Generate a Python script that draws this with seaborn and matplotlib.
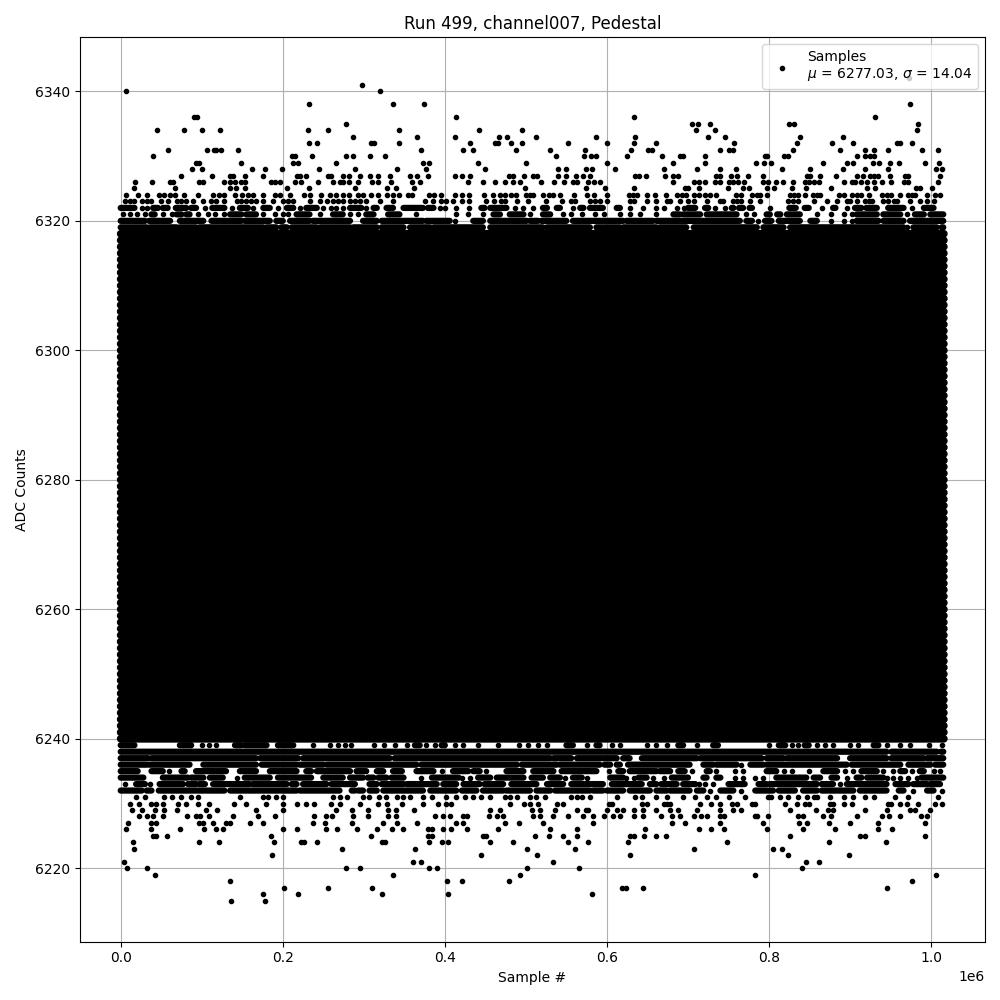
import numpy as np
import pandas as pd
import matplotlib
matplotlib.use('Agg')
import matplotlib.pyplot as plt
import seaborn as sns

# --- style: plain matplotlib look (black frame, ticks, grey grid) ---
sns.set_style('ticks', {'axes.grid': True, 'grid.color': '#b0b0b0',
                        'axes.edgecolor': 'black', 'axes.labelcolor': 'black',
                        'text.color': 'black', 'xtick.color': 'black',
                        'ytick.color': 'black'})
plt.rcParams['font.family'] = ['DejaVu Sans']

# --- data (sample index in millions, ADC code) ---
first_sample, last_sample = 0.0, 1.0157   # x 1e6
mu, sigma = 6277.03, 14.04

# codes that are hit all along the run (solid band)
core_levels = [6240, 6241, 6242, 6243, 6244, 6245, 6246, 6247, 6248, 6249,
               6250, 6251, 6252, 6253, 6254, 6255, 6256, 6257, 6258, 6259,
               6260, 6261, 6262, 6263, 6264, 6265, 6266, 6267, 6268, 6269,
               6270, 6271, 6272, 6273, 6274, 6275, 6276, 6277, 6278, 6279,
               6280, 6281, 6282, 6283, 6284, 6285, 6286, 6287, 6288, 6289,
               6290, 6291, 6292, 6293, 6294, 6295, 6296, 6297, 6298, 6299,
               6300, 6301, 6302, 6303, 6304, 6305, 6306, 6307, 6308, 6309,
               6310, 6311, 6312, 6313, 6314, 6315, 6316, 6317, 6318]

# edge codes: (start, end) = run of touching samples, single number = one sample
fringe_6322 = [(0.0, 0.017), 0.026, 0.032, (0.040, 0.046), (0.052, 0.058), (0.068, 0.081), (0.087, 0.093), 0.104,
               (0.113, 0.128), 0.137, (0.147, 0.157), 0.163, (0.176, 0.184), 0.194, (0.205, 0.213), 0.221,
               (0.229, 0.242), 0.250, 0.260, 0.266, 0.274, (0.283, 0.297), 0.303, (0.312, 0.316), (0.328, 0.336),
               (0.349, 0.373), (0.379, 0.386), 0.394, 0.400, 0.414, 0.430, (0.445, 0.449), (0.456, 0.476), 0.486,
               0.497, 0.509, (0.521, 0.526), (0.538, 0.542), 0.558, (0.567, 0.571), (0.579, 0.595), (0.612, 0.616),
               0.628, 0.645, 0.661, 0.670, 0.686, 0.695, (0.700, 0.709), (0.721, 0.725), 0.733, 0.746,
               (0.754, 0.756), (0.763, 0.768), (0.776, 0.779), 0.801, (0.825, 0.833), (0.844, 0.849), 0.865,
               (0.879, 0.882), 0.896, (0.906, 0.914), (0.920, 0.933), (0.947, 0.966), 0.976, (0.991, 1.003)]
fringe_6321 = [0.003, 0.012, 0.020, 0.030, (0.038, 0.042), 0.052, 0.063, (0.069, 0.075), (0.081, 0.085), 0.095,
               0.108, 0.116, 0.128, (0.135, 0.149), (0.155, 0.167), 0.176, 0.190, 0.200, 0.207, (0.217, 0.233),
               0.246, (0.262, 0.274), 0.283, 0.293, (0.303, 0.312), (0.330, 0.344), 0.365, 0.414, 0.429, 0.447,
               (0.460, 0.468), (0.480, 0.497), 0.505, (0.521, 0.530), 0.546, 0.556, 0.569, 0.585, 0.596, 0.616,
               0.628, 0.641, 0.661, (0.682, 0.690), (0.694, 0.715), (0.723, 0.760), 0.772, 0.781, (0.797, 0.801),
               (0.810, 0.814), (0.822, 0.838), 0.859, 0.877, 0.892, 0.902, (0.908, 0.933), (0.941, 0.962), 0.970,
               (0.980, 0.991), (0.999, 1.015)]
fringe_6320 = [(0.0, 0.030), (0.035, 0.061), (0.073, 0.102), (0.112, 0.149), (0.153, 0.184), (0.192, 0.200),
               (0.209, 0.233), (0.237, 0.283), (0.299, 0.316), (0.322, 0.373), (0.377, 0.406), 0.412,
               (0.435, 0.447), (0.456, 0.501), (0.505, 0.515), (0.519, 0.550), (0.558, 0.620), (0.624, 0.657),
               (0.661, 0.764), (0.772, 0.779), 0.787, (0.795, 0.803), (0.812, 0.838), (0.851, 0.859), 0.877,
               0.892, 0.902, (0.908, 0.935), (0.941, 0.966), (0.974, 1.015)]
fringe_6319 = [(0.0, 0.032), (0.036, 0.069), (0.073, 0.093), (0.097, 0.110), (0.112, 0.176), (0.180, 0.192),
               (0.198, 0.205), (0.211, 0.242), (0.246, 0.283), (0.287, 0.316), (0.322, 0.349), (0.357, 0.382),
               (0.386, 0.447), (0.456, 0.521), (0.526, 0.579), (0.587, 0.616), (0.620, 0.661), (0.665, 0.698),
               (0.707, 0.785), (0.793, 0.818), (0.826, 0.966), 0.970, (0.978, 1.007), (1.013, 1.015)]

fringe_6239 = [(0.0, 0.017), (0.073, 0.087), 0.100, 0.109, 0.117, (0.141, 0.149), (0.153, 0.180), (0.194, 0.213),
               0.237, 0.258, 0.268, 0.277, 0.284, 0.312, 0.325, 0.339, 0.353, (0.363, 0.369), 0.377, 0.388,
               (0.396, 0.400), 0.412, 0.423, 0.441, 0.466, 0.491, 0.503, 0.515, 0.526, (0.550, 0.558), 0.575,
               (0.587, 0.591), 0.606, 0.616, 0.649, 0.661, 0.674, (0.688, 0.694), 0.711, (0.731, 0.737), 0.800,
               (0.812, 0.820), 0.828, 0.836, (0.844, 0.849), 0.859, 0.869, 0.879, 0.900, 0.910, (0.929, 0.935),
               0.945, 0.962, 0.974, 0.997, 1.013]
fringe_6238 = [(0.0, 0.945), (0.951, 1.007), (1.012, 1.015)]
fringe_6237 = [(0.0, 0.034), (0.038, 0.083), (0.085, 0.167), (0.172, 0.219), (0.225, 0.254), (0.256, 0.332),
               (0.338, 0.530), (0.534, 0.556), (0.563, 0.612), (0.620, 0.628), (0.643, 0.711), (0.715, 0.791),
               (0.797, 0.818), (0.822, 0.884), (0.900, 0.945), (0.951, 0.991), (0.995, 1.015)]
fringe_6236 = [(0.0, 0.032), (0.035, 0.085), (0.102, 0.167), (0.174, 0.217), (0.221, 0.250), (0.254, 0.365),
               (0.371, 0.489), (0.495, 0.538), (0.542, 0.591), (0.597, 0.604), (0.612, 0.616), (0.626, 0.702),
               (0.719, 0.731), (0.735, 0.760), 0.766, (0.777, 0.793), (0.797, 0.896), (0.902, 0.962),
               (0.972, 0.999), (1.005, 1.015)]
fringe_6235 = [(0.0, 0.021), (0.038, 0.052), 0.060, (0.075, 0.079), (0.093, 0.130), (0.147, 0.167), (0.184, 0.217),
               (0.229, 0.235), (0.242, 0.283), (0.291, 0.303), (0.316, 0.324), (0.336, 0.347), (0.365, 0.386),
               0.396, (0.410, 0.429), (0.435, 0.443), 0.451, (0.476, 0.497), (0.509, 0.534), (0.544, 0.587), 0.602,
               (0.614, 0.620), (0.628, 0.661), (0.665, 0.678), (0.688, 0.696), 0.705, (0.723, 0.727), 0.735, 0.758,
               0.768, (0.797, 0.809), 0.818, 0.828, 0.849, (0.867, 0.884), 0.894, 0.904, (0.914, 0.933), 0.941,
               0.953, (0.962, 0.968), 0.976, (0.986, 0.991), 1.003, 1.011]
fringe_6234 = [(0.0, 0.028), (0.052, 0.083), (0.087, 0.102), (0.110, 0.126), 0.143, (0.153, 0.184), (0.194, 0.235),
               (0.250, 0.274), (0.283, 0.299), (0.305, 0.312), (0.318, 0.328), (0.334, 0.349), 0.371,
               (0.384, 0.417), 0.421, 0.431, (0.441, 0.456), (0.464, 0.497), (0.507, 0.521), (0.530, 0.542), 0.548,
               (0.558, 0.569), 0.575, (0.604, 0.620), 0.624, 0.633, (0.639, 0.649), 0.657, 0.670, (0.680, 0.700),
               (0.719, 0.723), (0.735, 0.740), 0.758, 0.768, 0.783, 0.793, (0.809, 0.846), (0.855, 0.863),
               (0.877, 0.884), 0.896, (0.908, 0.914), (0.921, 0.941), 0.945, 0.953, 0.962, 0.972, 0.982,
               (0.988, 1.015)]
fringe_6233 = [0.005, (0.019, 0.030), 0.036, (0.048, 0.077), (0.083, 0.093), (0.097, 0.104), (0.114, 0.159),
               (0.163, 0.205), (0.211, 0.217), (0.225, 0.254), (0.260, 0.289), (0.307, 0.316), (0.322, 0.349),
               (0.353, 0.390), (0.398, 0.414), (0.423, 0.443), (0.449, 0.472), (0.482, 0.513), (0.526, 0.546),
               (0.556, 0.595), (0.606, 0.643), (0.653, 0.661), (0.667, 0.686), (0.694, 0.709), 0.713, 0.721, 0.731,
               (0.750, 0.770), (0.787, 0.797), (0.801, 0.859), (0.865, 0.879), 0.888, (0.896, 0.945),
               (0.956, 0.972), (0.978, 0.995), (0.999, 1.011)]
fringe_6232 = [(0.0, 0.026), (0.032, 0.038), (0.047, 0.128), (0.135, 0.217), (0.221, 0.270), (0.285, 0.289),
               (0.293, 0.299), (0.307, 0.316), (0.324, 0.373), (0.382, 0.414), (0.421, 0.439), (0.447, 0.472),
               (0.476, 0.505), (0.513, 0.530), (0.536, 0.579), (0.583, 0.595), (0.600, 0.620), (0.628, 0.653),
               (0.661, 0.674), (0.678, 0.702), (0.711, 0.719), 0.727, (0.740, 0.756), 0.766, (0.783, 0.805),
               (0.812, 0.832), (0.842, 0.859), (0.865, 0.904), (0.912, 0.945), (0.960, 0.966), 0.978,
               (0.995, 1.003), 1.013]

# isolated samples far from the pedestal
dots_6342 = [0.973]
dots_6341 = [0.298]
dots_6340 = [0.006, 0.320]
dots_6338 = [0.232, 0.336, 0.374, 0.974]
dots_6336 = [0.091, 0.094, 0.414, 0.633, 0.931]
dots_6335 = [0.278, 0.705, 0.712, 0.727, 0.825, 0.831, 0.984]
dots_6334 = [0.045, 0.078, 0.100, 0.123, 0.231, 0.256, 0.344, 0.442, 0.495, 0.710, 0.733, 0.983]
dots_6333 = [0.287, 0.366, 0.412, 0.467, 0.477, 0.512, 0.587, 0.635, 0.725, 0.746, 0.838, 0.891]
dots_6332 = [0.232, 0.242, 0.309, 0.313, 0.344, 0.431, 0.462, 0.466, 0.482, 0.495, 0.552, 0.600, 0.633, 0.660,
             0.757, 0.835, 0.878, 0.904, 0.958, 0.962, 0.976]
dots_6331 = [0.058, 0.107, 0.115, 0.117, 0.124, 0.145, 0.370, 0.423, 0.435, 0.488, 0.530, 0.573, 0.630, 0.651,
             0.655, 0.740, 0.750, 0.755, 0.829, 0.888, 0.918, 0.930, 0.947, 0.989, 1.008]
dots_6330 = [0.040, 0.212, 0.215, 0.236, 0.278, 0.287, 0.308, 0.326, 0.537, 0.572, 0.580, 0.587, 0.625, 0.668,
             0.690, 0.694, 0.721, 0.795, 0.797, 0.819, 0.824, 0.909, 0.918, 0.924, 0.930]
dots_6329 = [0.093, 0.097, 0.149, 0.213, 0.219, 0.266, 0.373, 0.381, 0.441, 0.500, 0.600, 0.682, 0.721, 0.784,
             0.794, 0.803, 0.866, 0.896, 0.904, 0.928, 0.936, 0.949, 0.960, 0.993, 1.010]
dots_6328 = [0.088, 0.100, 0.162, 0.178, 0.199, 0.245, 0.289, 0.341, 0.377, 0.449, 0.540, 0.550, 0.574, 0.582,
             0.610, 0.670, 0.711, 0.739, 0.759, 0.816, 0.850, 0.891, 0.919, 0.947, 1.006, 1.014]
dots_6327 = [0.075, 0.113, 0.135, 0.138, 0.153, 0.176, 0.218, 0.221, 0.229, 0.256, 0.260, 0.274, 0.282, 0.295,
             0.308, 0.318, 0.332, 0.357, 0.366, 0.379, 0.412, 0.421, 0.431, 0.479, 0.484, 0.498, 0.509, 0.514,
             0.539, 0.549, 0.562, 0.571, 0.579, 0.635, 0.639, 0.648, 0.672, 0.682, 0.688, 0.735, 0.740, 0.753,
             0.761, 0.774, 0.792, 0.847, 0.850, 0.863, 0.883, 0.909, 0.916, 0.924, 0.930, 0.935, 0.949, 0.968,
             0.972, 1.011]
dots_6326 = [0.018, 0.039, 0.061, 0.065, 0.097, 0.101, 0.128, 0.135, 0.141, 0.148, 0.153, 0.186, 0.190, 0.196,
             0.215, 0.222, 0.244, 0.262, 0.270, 0.274, 0.282, 0.293, 0.310, 0.318, 0.333, 0.360, 0.369, 0.428,
             0.447, 0.462, 0.474, 0.484, 0.493, 0.519, 0.535, 0.547, 0.558, 0.563, 0.577, 0.584, 0.591, 0.681,
             0.707, 0.714, 0.721, 0.733, 0.740, 0.751, 0.756, 0.762, 0.769, 0.793, 0.799, 0.808, 0.817, 0.830,
             0.844, 0.849, 0.856, 0.862, 0.892, 0.902, 0.906, 0.914, 0.921, 0.930, 0.940, 0.950, 0.966, 0.972,
             1.009]
dots_6325 = [0.016, 0.067, 0.135, 0.142, 0.153, 0.205, 0.232, 0.289, 0.328, 0.340, 0.362, 0.499, 0.574, 0.597,
             0.633, 0.696, 0.700, 0.713, 0.749, 0.768, 0.775, 0.798, 0.806, 0.828, 0.845, 0.877, 0.921, 0.931,
             0.981, 0.986, 1.001]
dots_6324 = [0.007, 0.021, 0.032, 0.047, 0.054, 0.061, 0.067, 0.078, 0.095, 0.114, 0.121, 0.128, 0.141, 0.150,
             0.157, 0.163, 0.175, 0.191, 0.197, 0.209, 0.226, 0.233, 0.247, 0.258, 0.266, 0.274, 0.282, 0.293,
             0.299, 0.309, 0.318, 0.328, 0.336, 0.344, 0.355, 0.359, 0.381, 0.386, 0.395, 0.412, 0.421, 0.430,
             0.448, 0.459, 0.468, 0.474, 0.482, 0.488, 0.500, 0.505, 0.509, 0.521, 0.528, 0.534, 0.542, 0.559,
             0.576, 0.584, 0.600, 0.627, 0.632, 0.637, 0.649, 0.659, 0.673, 0.687, 0.692, 0.698, 0.707, 0.714,
             0.721, 0.727, 0.735, 0.759, 0.766, 0.779, 0.785, 0.789, 0.797, 0.826, 0.831, 0.836, 0.844, 0.854,
             0.859, 0.863, 0.886, 0.892, 0.902, 0.908, 0.914, 0.923, 0.939, 0.945, 0.951, 0.962, 0.971, 0.976,
             0.980, 0.995, 1.005, 1.011]
dots_6323 = [0.005, 0.011, 0.017, 0.026, 0.032, 0.038, 0.050, 0.058, 0.069, 0.075, 0.081, 0.089, 0.101, 0.112,
             0.118, 0.128, 0.143, 0.149, 0.155, 0.161, 0.167, 0.176, 0.188, 0.200, 0.207, 0.213, 0.233, 0.246,
             0.254, 0.262, 0.268, 0.274, 0.283, 0.289, 0.295, 0.303, 0.320, 0.336, 0.376, 0.385, 0.395, 0.401,
             0.410, 0.421, 0.430, 0.451, 0.461, 0.469, 0.474, 0.489, 0.502, 0.525, 0.544, 0.556, 0.561, 0.579,
             0.585, 0.591, 0.600, 0.628, 0.633, 0.649, 0.661, 0.674, 0.678, 0.690, 0.700, 0.707, 0.723, 0.739,
             0.743, 0.756, 0.760, 0.765, 0.777, 0.789, 0.824, 0.830, 0.836, 0.855, 0.871, 0.884, 0.896, 0.900,
             0.908, 0.918, 0.923, 0.927, 0.941, 0.947, 0.954, 0.958, 0.974, 0.986, 0.995, 1.003]

dots_6231 = [0.019, 0.030, 0.054, 0.063, 0.075, 0.087, 0.095, 0.147, 0.176, 0.182, 0.192, 0.200, 0.262, 0.270,
             0.279, 0.299, 0.307, 0.319, 0.327, 0.341, 0.348, 0.357, 0.373, 0.384, 0.402, 0.414, 0.425, 0.435,
             0.445, 0.456, 0.474, 0.480, 0.489, 0.505, 0.513, 0.523, 0.556, 0.563, 0.569, 0.579, 0.612, 0.635,
             0.643, 0.661, 0.674, 0.694, 0.709, 0.723, 0.735, 0.750, 0.770, 0.799, 0.803, 0.814, 0.824, 0.836,
             0.847, 0.855, 0.859, 0.875, 0.892, 0.904, 0.919, 0.929, 0.955, 0.972, 1.009]
dots_6230 = [0.011, 0.023, 0.038, 0.044, 0.052, 0.071, 0.081, 0.095, 0.109, 0.140, 0.155, 0.179, 0.200, 0.218,
             0.229, 0.238, 0.260, 0.270, 0.295, 0.318, 0.329, 0.347, 0.373, 0.391, 0.402, 0.408, 0.480, 0.498,
             0.505, 0.515, 0.538, 0.546, 0.602, 0.606, 0.643, 0.649, 0.670, 0.674, 0.678, 0.715, 0.729, 0.740,
             0.754, 0.760, 0.779, 0.783, 0.820, 0.835, 0.844, 0.849, 0.875, 0.879, 0.892, 0.902, 0.947, 0.951,
             0.962, 0.970, 0.984, 1.005, 1.014]
dots_6229 = [0.014, 0.026, 0.042, 0.054, 0.070, 0.105, 0.119, 0.167, 0.200, 0.266, 0.286, 0.305, 0.330, 0.340,
             0.362, 0.456, 0.468, 0.507, 0.517, 0.536, 0.563, 0.574, 0.577, 0.600, 0.612, 0.620, 0.633, 0.645,
             0.661, 0.678, 0.688, 0.711, 0.740, 0.756, 0.766, 0.826, 0.858, 0.873, 0.879, 0.919, 0.945, 0.974,
             0.980, 0.999]
dots_6228 = [0.023, 0.032, 0.040, 0.052, 0.082, 0.093, 0.098, 0.109, 0.139, 0.170, 0.191, 0.239, 0.253, 0.261,
             0.287, 0.305, 0.330, 0.340, 0.388, 0.398, 0.406, 0.423, 0.427, 0.455, 0.464, 0.472, 0.509, 0.517,
             0.534, 0.552, 0.571, 0.583, 0.596, 0.608, 0.616, 0.633, 0.645, 0.667, 0.680, 0.690, 0.707, 0.716,
             0.724, 0.740, 0.744, 0.783, 0.785, 0.799, 0.836, 0.842, 0.867, 0.877, 0.908, 0.939, 0.948, 0.962,
             0.988, 0.995]
dots_6227 = [0.009, 0.037, 0.044, 0.097, 0.102, 0.114, 0.130, 0.135, 0.159, 0.176, 0.237, 0.252, 0.286, 0.324,
             0.341, 0.366, 0.414, 0.423, 0.474, 0.492, 0.521, 0.583, 0.680, 0.696, 0.740, 0.793, 0.837, 0.847,
             0.874, 0.900, 0.934, 0.992]
dots_6226 = [0.006, 0.037, 0.073, 0.103, 0.117, 0.126, 0.200, 0.218, 0.253, 0.267, 0.291, 0.316, 0.335, 0.348,
             0.379, 0.384, 0.398, 0.408, 0.427, 0.466, 0.530, 0.563, 0.647, 0.714, 0.728, 0.744, 0.797, 0.842,
             0.882, 0.934, 0.952]
dots_6225 = [0.040, 0.044, 0.057, 0.186, 0.309, 0.379, 0.384, 0.447, 0.451, 0.511, 0.529, 0.546, 0.563, 0.628,
             0.633, 0.646, 0.660, 0.673, 0.826, 0.912, 0.919, 0.993]
dots_6224 = [0.015, 0.097, 0.121, 0.189, 0.223, 0.226, 0.242, 0.323, 0.326, 0.381, 0.396, 0.404, 0.456, 0.484,
             0.552, 0.577, 0.626, 0.748, 0.874, 0.944]
dots_6223 = [0.016, 0.273, 0.363, 0.501, 0.560, 0.707, 0.805, 0.816]
dots_6222 = [0.187, 0.445, 0.514, 0.629, 0.824, 0.899]
dots_6221 = [0.004, 0.361, 0.371, 0.534, 0.845, 0.862]
dots_6220 = [0.008, 0.032, 0.278, 0.295, 0.381, 0.390, 0.501, 0.566, 0.841]
dots_6219 = [0.042, 0.336, 0.493, 0.783, 1.006]
dots_6218 = [0.135, 0.403, 0.421, 0.479, 0.977]
dots_6217 = [0.202, 0.256, 0.310, 0.619, 0.624, 0.644, 0.945]
dots_6216 = [0.175, 0.219, 0.323, 0.404, 0.581]
dots_6215 = [0.136, 0.178]

fringe_rows = [(6322, fringe_6322), (6321, fringe_6321), (6320, fringe_6320), (6319, fringe_6319),
               (6239, fringe_6239), (6238, fringe_6238), (6237, fringe_6237), (6236, fringe_6236),
               (6235, fringe_6235), (6234, fringe_6234), (6233, fringe_6233), (6232, fringe_6232)]
dot_rows = [(6342, dots_6342), (6341, dots_6341), (6340, dots_6340), (6338, dots_6338), (6336, dots_6336),
            (6335, dots_6335), (6334, dots_6334), (6333, dots_6333), (6332, dots_6332), (6331, dots_6331),
            (6330, dots_6330), (6329, dots_6329), (6328, dots_6328), (6327, dots_6327), (6326, dots_6326),
            (6325, dots_6325), (6324, dots_6324), (6323, dots_6323),
            (6231, dots_6231), (6230, dots_6230), (6229, dots_6229), (6228, dots_6228), (6227, dots_6227),
            (6226, dots_6226), (6225, dots_6225), (6224, dots_6224), (6223, dots_6223), (6222, dots_6222),
            (6221, dots_6221), (6220, dots_6220), (6219, dots_6219), (6218, dots_6218), (6217, dots_6217),
            (6216, dots_6216), (6215, dots_6215)]

# --- collect runs (touching samples) and single samples ---
run_y, run_x0, run_x1 = [], [], []
pt_x, pt_y = [], []
for level, row in fringe_rows:
    for item in row:
        if isinstance(item, tuple):
            run_y.append(level)
            run_x0.append(item[0])
            run_x1.append(item[1])
        else:
            pt_x.append(item)
            pt_y.append(level)
for level, xs in dot_rows:
    pt_x += xs
    pt_y += [level] * len(xs)

points = pd.DataFrame({'sample': np.array(pt_x) * 1e6, 'adc': pt_y})

# --- plot ---
fig, ax = plt.subplots(figsize=(10, 10), dpi=100)
ax.set_axisbelow(True)

# saturated band: thousands of overlapping dots per code, rows merge into solid black
ax.hlines(core_levels, first_sample * 1e6, last_sample * 1e6,
          colors='black', linewidth=5.6, capstyle='round', snap=False)
ax.hlines(run_y, np.array(run_x0) * 1e6, np.array(run_x1) * 1e6,
          colors='black', linewidth=4.5, capstyle='round', snap=False)
sns.scatterplot(data=points, x='sample', y='adc', color='black', marker='.', s=36,
                edgecolor='black', linewidth=1.0, ax=ax,
                label=f'Samples\n$\\mu$ = {mu:.2f}, $\\sigma$ = {sigma:.2f}')

ax.grid(True)
ax.set_title('Run 499, channel007, Pedestal')
ax.set_xlabel('Sample #')
ax.set_ylabel('ADC Counts')
ax.legend(loc='upper right')

plt.tight_layout()
plt.savefig('out.png', dpi=100)
